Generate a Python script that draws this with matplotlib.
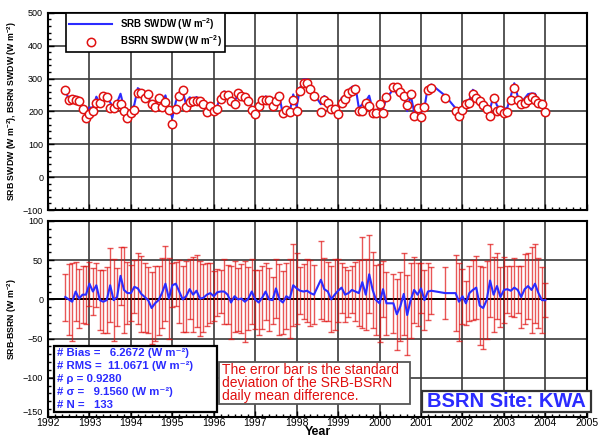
import numpy as np
import matplotlib.pyplot as plt
from matplotlib.lines import Line2D
from matplotlib.patches import Rectangle

plt.rcParams['font.family'] = ['Liberation Sans', 'DejaVu Sans']
plt.rcParams['mathtext.fontset'] = 'custom'
plt.rcParams['mathtext.rm'] = 'Liberation Sans'
plt.rcParams['mathtext.bf'] = 'Liberation Sans:bold'

# months with data (month index 1-12) for every year
full = list(range(1, 13))
months_present = {
    1992: list(range(5, 13)),
    1993: full, 1994: full, 1995: full, 1996: full, 1997: full,
    1998: [1, 2, 3, 4, 5, 7, 8, 9, 10, 11, 12],
    1999: full,
    2000: [1, 2, 4, 5, 6, 7, 8, 9, 10, 11, 12],
    2001: [1, 2, 3, 7, 10, 11, 12],
    2002: full, 2003: full,
}

# BSRN monthly mean SWDW (W m-2)
bsrn = [
    264, 236, 238, 236, 232, 207, 180, 192,
    202, 227, 227, 248, 245, 210, 210, 224, 224, 200, 180, 194,
    205, 257, 256, 240, 252, 224, 214, 240, 215, 229, 206, 163,
    209, 248, 264, 215, 230, 233, 233, 231, 223, 197, 218, 202,
    207, 238, 251, 249, 233, 224, 255, 247, 244, 232, 203, 192,
    216, 236, 236, 236, 217, 232, 248, 194, 203, 198, 234, 200,
    261, 288, 286, 267, 248, 197, 234, 225, 208, 208, 193,
    226, 238, 255, 263, 268, 202, 200, 225, 216, 194, 196, 222,
    196, 244, 274, 274, 259, 247, 221, 252, 187, 212, 182,
    214, 265, 271, 240, 202, 186, 203,
    224, 227, 254, 242, 231, 221, 209, 185, 240, 201, 206, 195,
    199, 236, 271, 234, 223, 227, 236, 243, 234, 225, 224, 198,
]

# SRB - BSRN monthly difference (W m-2)
diff = [
    3, 0, -3, 10, 1, 6, 6, 20,
    10, 18, -1, -3, -1, 18, -1, 3, 30, 12, 8, 8,
    16, 14, 7, 3, -1, -11, -5, -1, 8, 20, 1, 18,
    20, 10, 0, 4, 13, 6, 11, 1, 2, 6, 8, 4,
    9, 10, 10, 6, -4, 4, 0, 1, -3, 1, 10, 0,
    -4, 2, 10, 0, -1, 14, 0, -4, 4, 1, 18, 14,
    11, 10, 11, 8, 6, 25, 13, 10, 0, 6, 11,
    15, 6, 8, 12, 10, 8, 22, 6, 32, 12, -1, -5,
    13, -5, -5, -19, -9, 7, -20, -1, 12, 6, 14,
    -1, 10, 11, 8, 8, -3, 4,
    -5, 8, 12, 15, -8, -11, -1, 24, 6, 17, 3, 12,
    13, 11, 15, 12, 3, 13, 17, 12, 20, 8, -1, -1,
]

# standard deviation of the daily differences (W m-2)
sd = [
    30, 45, 50, 38, 38, 36, 37, 28,
    30, 28, 38, 40, 42, 47, 52, 37, 37, 55, 40, 36,
    34, 45, 48, 44, 42, 46, 48, 44, 45, 48, 52, 28,
    28, 40, 42, 45, 38, 48, 46, 48, 43, 40, 38, 32,
    30, 28, 42, 38, 47, 45, 40, 44, 52, 40, 42, 38,
    42, 40, 36, 40, 30, 38, 45, 40, 42, 50, 52, 45,
    30, 35, 40, 42, 38, 50, 40, 38, 42, 45, 40,
    32, 35, 30, 30, 38, 42, 58, 45, 50, 48, 45, 50,
    36, 40, 38, 45, 44, 52, 51, 48, 42, 40, 32,
    38, 36, 30, 33, 48, 50, 35,
    28, 35, 38, 40, 50, 52, 50, 47, 48, 42, 38, 42,
    30, 32, 38, 30, 40, 45, 42, 55, 50, 45, 42, 22,
]

stats = ['# Bias =   6.2672 (W m\u207b\u00b2)',
         '# RMS =  11.0671 (W m\u207b\u00b2)',
         '# \u03c1 = 0.9280',
         '# \u03c3 =   9.1560 (W m\u207b\u00b2)',
         '# N =   133']
note = ['The error bar is the standard',
        'deviation of the SRB-BSRN',
        'daily mean difference.']
site = 'BSRN Site: KWA'

t = np.array([y + m / 12.0 for y in sorted(months_present) for m in months_present[y]])
bsrn = np.array(bsrn, dtype=float)
diff = np.array(diff, dtype=float)
sd = np.array(sd, dtype=float)
srb = bsrn + diff

blue = '#2b2bff'
red = '#e01010'
gridc = '#3a3a3a'
W, H = 600.0, 438.0

fig = plt.figure(figsize=(6, 4.38), dpi=100)
ax1 = fig.add_axes([0.08, 0.5205, 0.898, 0.45])
ax2 = fig.add_axes([0.08, 0.048, 0.898, 0.4475])

for ax in (ax1, ax2):
    ax.set_xlim(1992, 2005)
    ax.set_xticks(np.arange(1992, 2006, 1))
    ax.set_xticks(np.arange(1992, 2005, 1 / 6.0), minor=True)
    ax.grid(True, which='major', color=gridc, lw=1.2)
    ax.set_axisbelow(True)
    ax.tick_params(which='both', direction='in', labelsize=6.5, width=1)
    ax.tick_params(which='major', length=4)
    ax.tick_params(which='minor', length=2.5)
    ax.yaxis.set_label_coords(-0.053, 0.5)
    for s in ax.spines.values():
        s.set_linewidth(1.5)

# top panel
ax1.plot(t, srb, color=blue, lw=1.5, zorder=3)
ax1.plot(t, bsrn, 'o', ms=6, mfc='white', mec=red, mew=1.1, zorder=4)
ax1.set_ylim(-100, 500)
ax1.set_yticks(np.arange(-100, 501, 100))
ax1.set_yticks(np.arange(-100, 501, 20), minor=True)
ax1.tick_params(axis='x', labelbottom=False)
ax1.set_ylabel('SRB SWDW (W m$^{\\mathbf{-2}}$), BSRN SWDW (W m$^{\\mathbf{-2}}$)',
               fontsize=6.3, fontweight='bold')
handles = [Line2D([], [], color=blue, lw=1.5),
           Line2D([], [], ls='none', marker='o', ms=6, mfc='white', mec=red, mew=1.1)]
leg = ax1.legend(handles, ['SRB SWDW (W m$^{\\mathbf{-2}}$)', 'BSRN SWDW (W m$^{\\mathbf{-2}}$)'],
                 loc='upper left', bbox_to_anchor=(0.033, 1.0), borderaxespad=0,
                 fancybox=False, framealpha=1, edgecolor='black', handlelength=4.5,
                 prop={'size': 7, 'weight': 'bold'}, borderpad=0.3, labelspacing=0.2)
leg.get_frame().set_linewidth(1.2)

# bottom panel
ax2.errorbar(t, diff, yerr=sd, fmt='none', ecolor=red, elinewidth=1.0,
             capsize=2.5, capthick=1.0, alpha=0.7, zorder=3)
ax2.axhline(0, color='black', lw=1.4, zorder=2)
ax2.plot(t, diff, color=blue, lw=1.5, zorder=4)
ax2.set_ylim(-150, 100)
ax2.set_yticks(np.arange(-150, 101, 50))
ax2.set_yticks(np.arange(-150, 101, 10), minor=True)
ax2.tick_params(axis='x', labelsize=7.5, pad=1)
ax2.set_ylabel('SRB-BSRN (W m$^{\\mathbf{-2}}$)', fontsize=6.3, fontweight='bold')
# lift the lowest y label a little so it clears the 1992 label
ax2.yaxis.get_major_ticks()[0].label1.set_va('bottom')

fig.text(0.53, 0.0, 'Year', ha='center', va='bottom', fontsize=9, fontweight='bold')


def box(x0, y0, x1, y1, ec, lw):
    # rectangle given in pixel coordinates from the top-left corner
    fig.patches.append(Rectangle((x0 / W, 1 - y1 / H), (x1 - x0) / W, (y1 - y0) / H,
                                 transform=fig.transFigure, fc='white', ec=ec,
                                 lw=lw, zorder=8))


# statistics box
box(54, 346, 217, 412, 'black', 1.6)
for i, s in enumerate(stats):
    fig.text(57 / W, 1 - (353 + 13 * i) / H, s, ha='left', va='center',
             fontsize=8.2, fontweight='bold', color=blue, zorder=10)

# note box
box(219, 362, 410, 404, '#555555', 1.3)
for i, s in enumerate(note):
    fig.text(222 / W, 1 - (369.5 + 13.3 * i) / H, s, ha='left', va='center',
             fontsize=10, color=red, zorder=10)

# site box
box(422, 391, 591, 412, '#333333', 1.6)
fig.text(506 / W, 1 - 401.5 / H, site, ha='center', va='center', fontsize=14.5,
         fontweight='bold', color=blue, zorder=10)

fig.savefig('out.png', dpi=100)
